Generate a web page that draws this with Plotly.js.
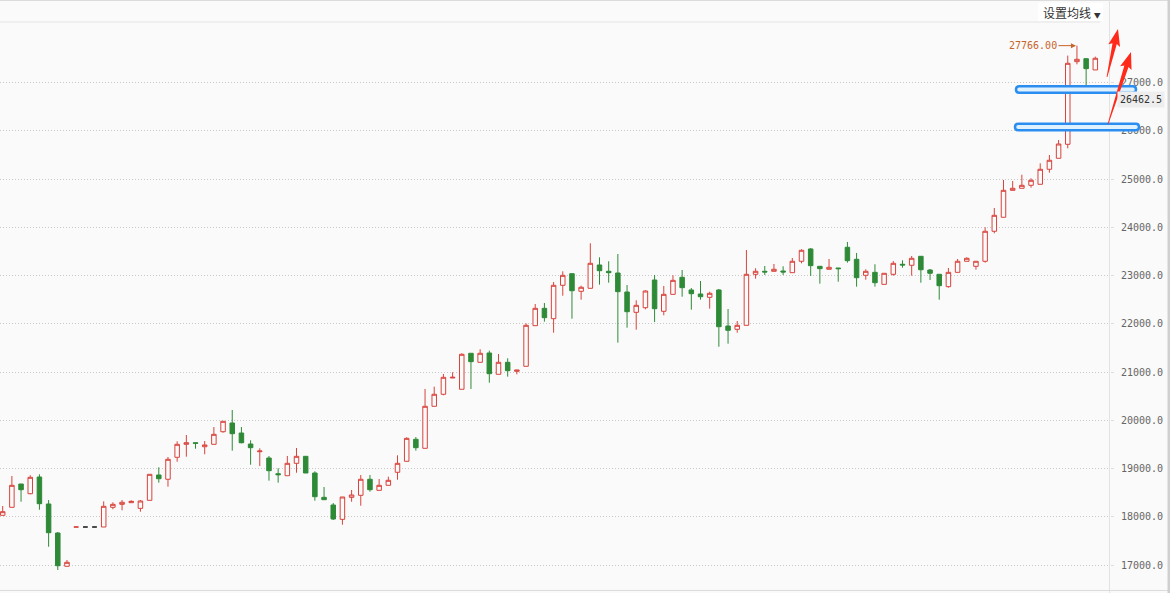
<!DOCTYPE html>
<html>
<head>
<meta charset="utf-8">
<script src="https://cdn.plot.ly/plotly-3.0.1.min.js"></script>
<style>
html,body{margin:0;padding:0;background:#fafafa;}
#chart{width:1170px;height:593px;}
</style>
</head>
<body>
<div id="chart"></div>
<script>
// ---- data ----
const openP = [18030,18196,18679,18478,18824,18265,17663,16973,17788,17788,
  17788,17788,18196,18258,18292,18175,18341,18866,18777,19233,
  19502,19535,19452,19502,19763,19944,19736,19508,19349,19218,
  18893,18851,19108,19253,18907,18403,18244,17947,18403,18445,
  18777,18548,18652,18922,19150,19606,19419,20290,20539,20877,
  20643,21389,21202,21395,20953,21202,21015,21119,21961,22321,
  22106,22798,23039,22674,22736,23219,23088,23053,22659,22238,
  22334,22908,22259,22611,22964,22701,22618,22549,22701,21954,
  21886,21969,23026,23088,23088,23095,23060,23296,23551,23192,
  23130,23157,23586,23337,23005,23067,22818,23026,23234,23213,
  23399,23115,23026,22770,23067,23296,23192,23296,23918,24208,
  24767,24809,24871,24892,25203,25431,25721,27434,27496,27262];
const highP = [18223,18845,18679,18860,18880,18347,17684,17104,17788,17788,
  17788,18320,18300,18347,18340,18347,18880,19025,19239,19564,
  19695,19535,19570,19861,19979,20213,19861,19585,19419,19260,
  19005,19260,19425,19253,18942,18617,18285,18410,18555,18866,
  18866,18783,18831,19274,19647,19653,20649,20696,20960,20995,
  21389,21389,21472,21443,21374,21285,21042,22010,22411,22431,
  22867,23088,23039,22790,23669,23378,23296,23447,22804,22487,
  22694,23012,22784,23005,23115,22742,22887,22666,22722,22307,
  22058,23530,23151,23198,23240,23192,23364,23544,23571,23192,
  23343,23157,23696,23468,23130,23234,23047,23302,23316,23406,
  23399,23136,23026,23157,23343,23378,23296,24000,24401,24981,
  24960,25091,25016,25327,25499,25810,27560,27766,27496,27538];
const lowP = [18030,18196,18312,18466,18146,17379,16896,16973,17788,17788,
  17788,17788,18155,18134,18285,18105,18341,18706,18623,19141,
  19245,19411,19295,19502,19743,19370,19522,19079,19052,18748,
  18706,18851,18913,18907,18333,18354,17933,17835,18312,18229,
  18520,18548,18652,18768,19150,19370,19419,20290,20518,20877,
  20643,20649,21202,20779,20953,20904,20953,21119,21961,22044,
  21816,22582,22106,22500,22736,22811,22852,21609,21920,21878,
  22300,22037,22176,22611,22562,22293,22500,22314,21525,21588,
  21816,21969,22935,23012,23088,23012,23060,23254,22991,22832,
  23130,22873,23267,22770,22915,22770,22818,22997,23163,22997,
  22852,22908,22500,22749,23067,23296,23122,23267,23876,24208,
  24767,24809,24822,24892,25133,25431,25638,27379,26832,27262];
const closeP = [18105,18652,18561,18818,18271,17670,16986,17056,17788,17788,
  17788,18217,18258,18300,18320,18327,18880,18789,19191,19502,
  19535,19522,19488,19709,19979,19722,19535,19432,19363,18955,
  18872,19108,19253,18907,18416,18354,17954,18410,18451,18777,
  18561,18652,18756,19108,19626,19432,20290,20539,20891,20891,
  21368,21215,21389,20966,21202,21028,21042,21969,22321,22127,
  22798,23005,22686,22757,23254,23101,23060,22666,22251,22383,
  22680,22313,22611,22901,22749,22624,22562,22632,21940,21865,
  21969,23026,23088,23074,23130,23074,23296,23524,23205,23143,
  23171,23143,23309,22956,23088,22852,23047,23254,23219,23358,
  23121,23047,22790,23067,23296,23358,23296,23918,24249,24767,
  24809,24871,24975,25203,25390,25727,27400,27483,27289,27504];
const priceTicks = [17000,18000,19000,20000,21000,22000,23000,24000,25000,26000,27000];
const maxLabel = '27766.00';
const maxValue = 27766;
const cursorLabel = '26462.5';
const menuLabel = '设置均线';

// ---- layout helpers (pixels -> paper) ----
const W = 1170, H = 593;
const M = {l: 0, r: 60, t: 22, b: 3};
const PW = W - M.l - M.r, PH = H - M.t - M.b;
const px = x => (x - M.l) / PW;
const py = y => (H - M.b - y) / PH;

const n = openP.length;
const xs = Array.from({length: n}, (_, i) => i);

// flat candles with no change from previous close are drawn black
const isFlatBlack = xs.map(i => i > 0 && openP[i] === closeP[i] && highP[i] === lowP[i] && closeP[i] === closeP[i - 1]);
const pick = (arr, want) => arr.map((v, i) => (isFlatBlack[i] === want ? v : null));

const RED = '#d8433c', GREEN = '#2f8a38';

const main = {
  type: 'candlestick', x: xs,
  open: pick(openP, false), high: pick(highP, false), low: pick(lowP, false), close: pick(closeP, false),
  increasing: {line: {color: RED, width: 1}, fillcolor: 'rgba(250,250,250,1)'},
  decreasing: {line: {color: GREEN, width: 1}, fillcolor: GREEN},
  whiskerwidth: 0, hoverinfo: 'skip', showlegend: false
};
const flat = {
  type: 'candlestick', x: xs,
  open: pick(openP, true), high: pick(highP, true), low: pick(lowP, true), close: pick(closeP, true),
  increasing: {line: {color: '#333333', width: 1}, fillcolor: '#333333'},
  decreasing: {line: {color: '#333333', width: 1}, fillcolor: '#333333'},
  whiskerwidth: 0, hoverinfo: 'skip', showlegend: false
};

function capsule(x0, x1, yc, r) {
  const P = (x, y) => px(x) + ',' + py(y);
  return 'M' + P(x0 + r, yc - r) + ' L' + P(x1 - r, yc - r) +
    ' Q' + P(x1, yc - r) + ' ' + P(x1, yc) + ' Q' + P(x1, yc + r) + ' ' + P(x1 - r, yc + r) +
    ' L' + P(x0 + r, yc + r) + ' Q' + P(x0, yc + r) + ' ' + P(x0, yc) +
    ' Q' + P(x0, yc - r) + ' ' + P(x0 + r, yc - r) + ' Z';
}
function arrow(x0, y0, x1, y1) {
  const dx = x1 - x0, dy = y1 - y0, L = Math.hypot(dx, dy);
  const ux = dx / L, uy = dy / L, nx = -uy, ny = ux;
  const hl = 15, hw = 6, sw = 2.2, tw = 0.4;
  const bx = x1 - ux * hl, by = y1 - uy * hl;
  const pts = [
    [x0 + nx * tw, y0 + ny * tw], [bx + nx * sw, by + ny * sw], [bx + nx * hw - ux * 2, by + ny * hw - uy * 2],
    [x1, y1], [bx - nx * hw - ux * 2, by - ny * hw - uy * 2], [bx - nx * sw, by - ny * sw], [x0 - nx * tw, y0 - ny * tw]
  ];
  return 'M' + pts.map(p => px(p[0]) + ',' + py(p[1])).join(' L') + ' Z';
}

const shapes = [
  {type: 'line', xref: 'paper', yref: 'paper', x0: px(0), x1: px(W), y0: py(0.5), y1: py(0.5), line: {color: '#dcdcdc', width: 1}},
  {type: 'line', xref: 'paper', yref: 'paper', x0: px(0), x1: px(1100), y0: py(22), y1: py(22), line: {color: '#e4e4e4', width: 1}},
  {type: 'line', xref: 'paper', yref: 'paper', x0: px(1109.5), x1: px(1109.5), y0: py(0), y1: py(H), line: {color: '#e2e2e2', width: 1}},
  {type: 'line', xref: 'paper', yref: 'paper', x0: px(0), x1: px(W), y0: py(590.5), y1: py(590.5), line: {color: '#dcdcdc', width: 1}},
  {type: 'rect', xref: 'paper', yref: 'paper', x0: px(1167.5), x1: px(1170), y0: py(0), y1: py(H), fillcolor: '#cfcfcf', line: {width: 0}},
  {type: 'rect', xref: 'paper', yref: 'paper', x0: px(1038), x1: px(1103), y0: py(3), y1: py(21), fillcolor: '#ffffff', line: {width: 0}},
  {type: 'path', xref: 'paper', yref: 'paper', path: capsule(1016, 1136, 89.5, 3.2), fillcolor: '#dff1ff', line: {color: '#2b8df0', width: 2.5}, layer: 'above'},
  {type: 'path', xref: 'paper', yref: 'paper', path: capsule(1015, 1139, 127, 3.2), fillcolor: '#dff1ff', line: {color: '#2b8df0', width: 2.5}, layer: 'above'},
  {type: 'path', xref: 'paper', yref: 'paper', path: arrow(1107, 77, 1118, 29), fillcolor: '#ff2a1a', line: {width: 0}, layer: 'above'},
  {type: 'path', xref: 'paper', yref: 'paper', path: arrow(1108, 124, 1131, 52), fillcolor: '#ff2a1a', line: {width: 0}, layer: 'above'}
];

const annotations = [
  {xref: 'x', yref: 'y', x: highP.indexOf(maxValue), y: maxValue, text: maxLabel, showarrow: true,
   ax: -44, ay: 0, arrowhead: 2, arrowsize: 1, arrowwidth: 1, arrowcolor: '#c8642a', standoff: 1,
   font: {family: 'DejaVu Sans Mono', size: 10, color: '#c8642a'}},
  {xref: 'paper', yref: 'paper', x: px(1041), y: py(12.5), xanchor: 'left', yanchor: 'middle', showarrow: false,
   text: menuLabel + ' <span style="font-size:7px">▼</span>',
   font: {family: 'Noto Sans CJK SC', size: 12, color: '#333333'}},
  {xref: 'paper', yref: 'paper', x: px(1117), y: py(99.5), xanchor: 'left', yanchor: 'middle', showarrow: false,
   text: cursorLabel, bgcolor: '#eeeeee', borderpad: 2,
   font: {family: 'DejaVu Sans Mono', size: 10, color: '#333333'}}
];

const layout = {
  width: W, height: H,
  margin: M,
  paper_bgcolor: '#fafafa', plot_bgcolor: '#fafafa',
  showlegend: false, hovermode: false, boxgap: 0.3,
  xaxis: {type: 'linear', range: [-0.294, 120.6], visible: false, fixedrange: true, rangeslider: {visible: false}},
  yaxis: {
    side: 'right', range: [16482, 28256], tickmode: 'array', tickvals: priceTicks,
    ticktext: priceTicks.map(v => v.toFixed(1)),
    showgrid: true, gridcolor: '#c8c8c8', griddash: '1px,2px', gridwidth: 1,
    zeroline: false, showline: false,
    ticks: 'outside', ticklen: 3, tickcolor: '#dddddd', ticklabelstandoff: 5,
    tickfont: {family: 'DejaVu Sans Mono', size: 10, color: '#666666'},
    fixedrange: true
  },
  shapes: shapes,
  annotations: annotations
};

Plotly.newPlot('chart', [main, flat], layout, {displayModeBar: false, staticPlot: true});
</script>
</body>
</html>
